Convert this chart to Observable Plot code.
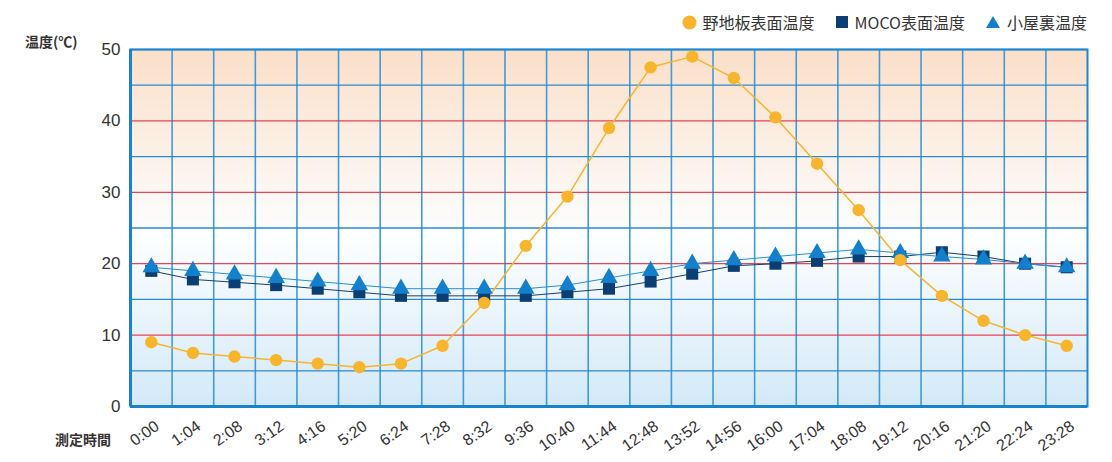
<!DOCTYPE html>
<html><head><meta charset="utf-8">
<script src="https://cdn.jsdelivr.net/npm/d3@7"></script>
<script src="https://cdn.jsdelivr.net/npm/@observablehq/plot@0.6"></script>
<style>
body{margin:0;background:#fff;font-family:"Liberation Sans","Noto Sans CJK JP",sans-serif;}
#wrap{position:relative;width:1112px;height:462px;}
.lg{position:absolute;top:10px;right:25px;display:flex;gap:20px;font-size:16px;color:#333;font-family:"Noto Sans CJK JP","Liberation Sans",sans-serif;align-items:center;}
.lg span{display:flex;align-items:center;gap:6px;}
.ylab{position:absolute;left:25px;top:31px;font-size:14px;font-weight:bold;color:#333;font-family:"Noto Sans CJK JP",sans-serif;}
.xlab{position:absolute;left:55px;top:429px;font-size:14px;font-weight:bold;color:#333;font-family:"Noto Sans CJK JP",sans-serif;}
</style></head>
<body><div id="wrap"></div>
<script>
const times = ["0:00","1:04","2:08","3:12","4:16","5:20","6:24","7:28","8:32","9:36","10:40","11:44","12:48","13:52","14:56","16:00","17:04","18:08","19:12","20:16","21:20","22:24","23:28"];
const noji = [9,7.5,7,6.5,6,5.5,6,8.5,14.5,22.5,29.4,39,47.5,49,46,40.5,34,27.5,20.5,15.5,12,10,8.5];
const moco = [19,17.8,17.4,17,16.5,16,15.5,15.5,15.5,15.5,16,16.5,17.5,18.6,19.7,20,20.4,21,21,21.6,21,20,19.5];
const koya = [19.5,19,18.5,18,17.5,17,16.5,16.5,16.5,16.5,17,18,19,20,20.5,21,21.5,22,21.5,21,20.6,20,19.5];
const seriesNames = ["野地板表面温度","MOCO表面温度","小屋裏温度"];
const colors = ["#f7b52d","#0b3f73","#1480cc"];
const blueLevels = [5,15,25,35,45,50];
const redLevels = [10,20,30,40];
const yTicks = [0,10,20,30,40,50];

const idx = times.map((_, i) => i);
const rows = (vals) => vals.map((v, i) => ({i, v}));
const bounds = d3.range(times.length - 1).map(i => i + 0.5);

const gradient = () => {
  const g = d3.create("svg:defs");
  const lg = g.append("linearGradient").attr("id","bg").attr("x1",0).attr("x2",0).attr("y1",0).attr("y2",1);
  lg.append("stop").attr("offset","0%").attr("stop-color","#fbdfc8");
  lg.append("stop").attr("offset","52%").attr("stop-color","#fdfeff");
  lg.append("stop").attr("offset","100%").attr("stop-color","#d3e9f8");
  return g.node();
};

const chart = Plot.plot({
  width: 1112, height: 462,
  marginLeft: 130, marginRight: 25, marginTop: 49, marginBottom: 56,
  style: {fontFamily: "Liberation Sans, sans-serif", color: "#333", background: "transparent"},
  x: {domain: [-0.5, times.length - 0.5], axis: null},
  y: {domain: [0, 50], axis: null},
  marks: [
    gradient,
    Plot.frame({fill: "url(#bg)", stroke: null}),
    Plot.ruleX(bounds, {stroke: "#3f9bd9", strokeWidth: 1.6}),
    Plot.ruleY(blueLevels, {stroke: "#2a8ad2", strokeWidth: 1.3}),
    Plot.ruleY(redLevels, {stroke: "#e2323d", strokeWidth: 1.3, strokeOpacity: 0.9}),
    Plot.frame({stroke: "#1c86cf", strokeWidth: 2}),
    Plot.ruleX([-0.5], {stroke: "#1a82cc", strokeWidth: 3}),
    Plot.ruleY([0], {stroke: "#1a82cc", strokeWidth: 3}),
    Plot.axisY(yTicks, {tickSize: 0, tickPadding: 10, fontSize: 17, label: null, fill: "#333"}),
    Plot.axisX(idx, {tickSize: 0, tickRotate: -35, tickPadding: 18, dx: 6, fontSize: 16, label: null, fill: "#333", tickFormat: i => times[i]}),
    Plot.line(rows(moco), {x: "i", y: "v", stroke: "#1d3e66", strokeWidth: 1}),
    Plot.line(rows(koya), {x: "i", y: "v", stroke: "#2a8fd6", strokeWidth: 1}),
    Plot.line(rows(noji), {x: "i", y: "v", stroke: colors[0], strokeWidth: 1.5}),
    Plot.dot(rows(moco), {x: "i", y: "v", symbol: "square", r: 6.8, fill: colors[1], stroke: null}),
    Plot.dot(rows(koya), {x: "i", y: "v", symbol: "triangle", r: 6.5, fill: colors[2], stroke: null}),
    Plot.dot(rows(noji), {x: "i", y: "v", symbol: "circle", r: 6.2, fill: colors[0], stroke: null})
  ]
});
const wrap = document.getElementById("wrap");
wrap.appendChild(chart);

const lg = document.createElement("div");
lg.className = "lg";
const sym = [
  c => `<svg width="15" height="15"><circle cx="7.5" cy="7.5" r="7" fill="${c}"/></svg>`,
  c => `<svg width="14" height="14"><rect x="1" y="1" width="12" height="12" fill="${c}"/></svg>`,
  c => `<svg width="16" height="14"><path d="M8 1 L15 13 L1 13 Z" fill="${c}"/></svg>`
];
seriesNames.forEach((n, k) => {
  const s = document.createElement("span");
  s.innerHTML = sym[k](colors[k]) + `<span>${n}</span>`;
  lg.appendChild(s);
});
wrap.appendChild(lg);
const yl = document.createElement("div"); yl.className = "ylab"; yl.textContent = "温度(℃)"; wrap.appendChild(yl);
const xl = document.createElement("div"); xl.className = "xlab"; xl.textContent = "測定時間"; wrap.appendChild(xl);
</script></body></html>
